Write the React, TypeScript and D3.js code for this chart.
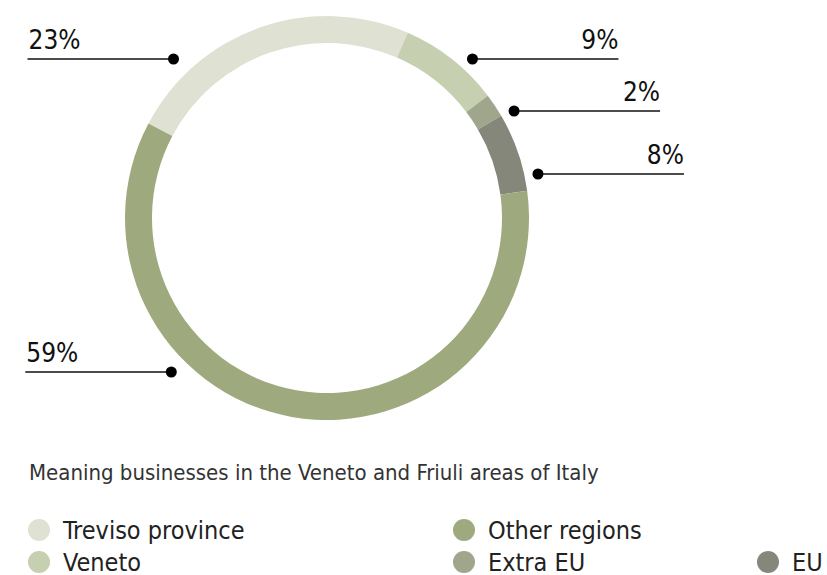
import React from 'react';
import * as d3 from 'd3';

// categories, in ring order (clockwise from the upper left)
const categories = ['Treviso province', 'Veneto', 'Extra EU', 'EU', 'Other regions'];
// arc shares as measured on the ring (%)
const shares = [23.8, 8.1, 1.9, 6.3, 59.9];
// printed labels
const labels = ['23%', '9%', '2%', '8%', '59%'];
const colors = ['#dfe1d3', '#c6cfb0', '#a0a68b', '#84877a', '#9eaa7e'];

const caption = 'Meaning businesses in the Veneto and Friuli areas of Italy';
// legend order in the picture
const legendOrder = ['Treviso province', 'Veneto', 'Other regions', 'Extra EU', 'EU'];

const W = 827;
const H = 575;
const cx = 327;
const cy = 218;
const outerR = 202;
const innerR = 175;
const font = "'DejaVu Sans Condensed', 'Roboto', sans-serif";

// where each callout sits: line y, side, dot distance from centre
const callouts = [
  { y: 59, side: -1, r: 221 },
  { y: 59, side: 1, r: 215.5 },
  { y: 111, side: 1, r: 215.5 },
  { y: 174, side: 1, r: 215.5 },
  { y: 372, side: -1, r: 219 },
];

// legend slots: column x, row y
const legendSlots = [
  { x: 39, y: 530 },
  { x: 39, y: 562 },
  { x: 464, y: 530 },
  { x: 464, y: 562 },
  { x: 768, y: 562 },
];

const App = () => {
  const start = (-62.1 * Math.PI) / 180;
  const pie = d3.pie<number>().sort(null).startAngle(start).endAngle(start + 2 * Math.PI);
  const arcs = pie(shares);
  const arc = d3.arc<d3.PieArcDatum<number>>().innerRadius(innerR).outerRadius(outerR);
  const color = d3.scaleOrdinal<string, string>().domain(categories).range(colors);

  return (
    <svg width={W} height={H} style={{ position: 'absolute', left: 0, top: 0 }} fontFamily={font}>
      <g transform={`translate(${cx},${cy})`}>
        {arcs.map((a, i) => (
          <path key={i} d={arc(a) || ''} fill={color(categories[i])} />
        ))}
      </g>

      {callouts.map((c, i) => {
        const dy = c.y - cy;
        const dotX = cx + c.side * Math.sqrt(c.r * c.r - dy * dy);
        const endX = dotX + c.side * 146;
        return (
          <g key={i}>
            <line x1={dotX} x2={endX} y1={c.y} y2={c.y} stroke="#111" strokeWidth={1.5} />
            <circle cx={dotX} cy={c.y} r={5.5} fill="#000" />
            <text
              x={c.side < 0 ? endX + 1 : endX}
              y={c.y - 10}
              textAnchor={c.side < 0 ? 'start' : 'end'}
              fontSize={26}
              fontWeight={500}
              fill="#111"
            >
              {labels[i]}
            </text>
          </g>
        );
      })}

      <text x={29} y={480} fontSize={22} fill="#333">
        {caption}
      </text>

      {legendOrder.map((name, i) => (
        <g key={name} transform={`translate(${legendSlots[i].x},${legendSlots[i].y})`}>
          <circle r={11} fill={color(name)} />
          <text x={24} y={8.5} fontSize={25} fill="#222">
            {name}
          </text>
        </g>
      ))}
    </svg>
  );
};

export default App;
